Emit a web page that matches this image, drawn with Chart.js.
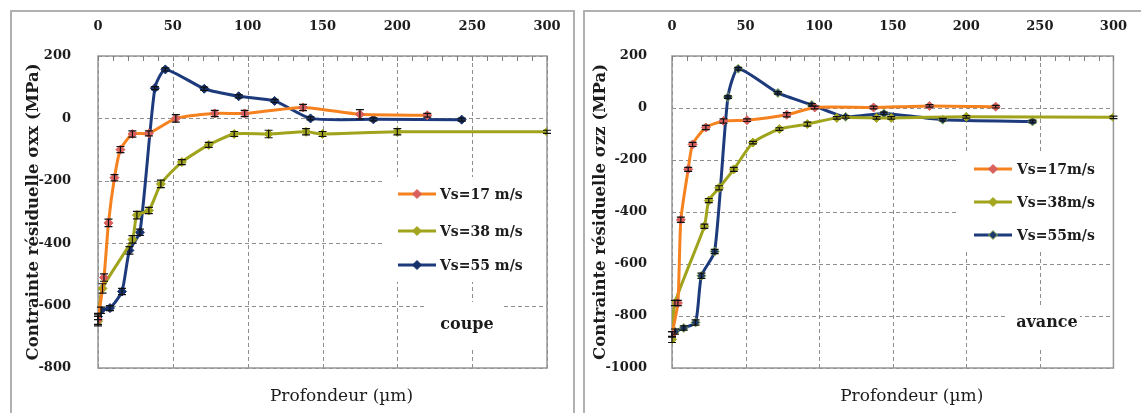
<!DOCTYPE html>
<html><head><meta charset="utf-8">
<script src="https://cdn.jsdelivr.net/npm/chart.js@4.4.0/dist/chart.umd.min.js"></script>
<style>
html,body{margin:0;padding:0;background:#fff;}
body{width:1141px;height:413px;position:relative;overflow:hidden;}
.panel{position:absolute;border:2px solid #b0b0b0;box-sizing:border-box;}
#p1{left:10px;top:10px;width:565px;height:430px;}
#p2{left:583px;top:10px;width:600px;height:430px;}
canvas{position:absolute;top:0;}
#c1{left:0;}
#c2{left:575px;}
</style></head><body>
<div class="panel" id="p1"></div><div class="panel" id="p2"></div>
<canvas id="c1" width="575" height="413"></canvas>
<canvas id="c2" width="566" height="413"></canvas>
<script>
// ---------- DATA ----------
// Depth axis ticks (µm)
const depthMin = 0, depthMax = 300, depthStep = 50, depthMinorStep = 10;

// Panel "coupe" (σxx)
const coupeX17 = [0, 4, 7, 11, 15, 23, 34, 52, 78, 98, 137, 175, 220];
const coupeY17 = [-645, -510, -335, -190, -100, -50, -48, 0, 16, 16, 35, 13, 10];
const coupeE17 = [15, 12, 12, 10, 10, 10, 8, 12, 10, 10, 10, 15, 6];

const coupeX38 = [0, 3, 23, 26, 34, 42, 56, 74, 91, 114, 139, 150, 200, 300];
const coupeY38 = [-650, -545, -388, -310, -295, -210, -140, -85, -50, -50, -43, -50, -43, -43];
const coupeE38 = [15, 15, 12, 12, 10, 12, 8, 8, 8, 12, 10, 8, 10, 5];

const coupeX55 = [0, 2, 8, 16, 21, 28, 38, 45, 71, 94, 118, 142, 184, 243];
const coupeY55 = [-635, -615, -608, -555, -423, -365, 97, 157, 95, 71, 56, 0, -3, -4];
const coupeE55 = [10, 10, 8, 10, 12, 10, 5, 5, 5, 5, 5, 5, 5, 5];

// Panel "avance" (σzz)
const avanceX17 = [0, 4, 6, 11, 14, 23, 35, 51, 78, 97, 137, 175, 220];
const avanceY17 = [-870, -750, -430, -236, -140, -75, -50, -47, -26, 2, 2, 8, 5];
const avanceE17 = [10, 10, 10, 8, 8, 8, 8, 5, 8, 5, 5, 5, 5];

const avanceX38 = [0, 2, 22, 25, 32, 42, 55, 73, 92, 112, 139, 149, 200, 300];
const avanceY38 = [-890, -750, -455, -356, -307, -236, -133, -81, -62, -38, -38, -38, -34, -36];
const avanceE38 = [12, 10, 8, 8, 8, 8, 5, 5, 8, 5, 5, 5, 5, 5];

const avanceX55 = [0, 2, 8, 16, 20, 29, 38, 45, 72, 95, 118, 144, 184, 245];
const avanceY55 = [-870, -860, -846, -825, -645, -552, 42, 151, 58, 12, -34, -21, -45, -52];
const avanceE55 = [10, 10, 8, 10, 10, 8, 5, 5, 5, 5, 5, 5, 5, 5];

const coupeLabels = ['Vs=17 m/s', 'Vs=38 m/s', 'Vs=55 m/s'];
const avanceLabels = ['Vs=17m/s', 'Vs=38m/s', 'Vs=55m/s'];

// ---------- CHARTS ----------
const SERIF = '"DejaVu Serif", "Liberation Serif", serif';
const TXT = '#1c1c1c';
const GRID = '#8e8e8e';
function pts(xs, ys) { return xs.map((x, i) => ({x: x, y: ys[i]})); }

function diamond(ctx, x, y, r) {
  ctx.beginPath();
  ctx.moveTo(x, y - r); ctx.lineTo(x + r, y); ctx.lineTo(x, y + r); ctx.lineTo(x - r, y);
  ctx.closePath(); ctx.fill(); ctx.stroke();
}

function makeChart(id, cfg) {
  const datasets = cfg.series.map(s => ({
    label: s.label,
    data: pts(s.x, s.y),
    errors: s.err,
    borderColor: s.line,
    backgroundColor: s.marker,
    pointBackgroundColor: s.marker,
    pointBorderColor: s.markerBorder,
    pointBorderWidth: 1,
    pointStyle: 'rectRot',
    pointRadius: 4.5,
    borderWidth: 3,
    tension: 0.2,
    fill: false
  }));

  const decor = {
    id: 'decor',
    beforeDatasetsDraw(chart) {
      const {ctx, chartArea: a} = chart;
      const xs = chart.scales.x, ys = chart.scales.y;
      ctx.save();
      // dashed grid lines at the major ticks
      ctx.strokeStyle = GRID; ctx.lineWidth = 1; ctx.setLineDash([4, 3]);
      xs.ticks.forEach(t => {
        const px = Math.round(xs.getPixelForValue(t.value)) + 0.5;
        ctx.beginPath(); ctx.moveTo(px, a.top); ctx.lineTo(px, a.bottom); ctx.stroke();
      });
      ys.ticks.forEach(t => {
        const py = Math.round(ys.getPixelForValue(t.value)) + 0.5;
        ctx.beginPath(); ctx.moveTo(a.left, py); ctx.lineTo(a.right, py); ctx.stroke();
      });
      ctx.setLineDash([]);
      // white boxes behind legend and panel label
      ctx.fillStyle = '#fff';
      cfg.boxes.forEach(b => ctx.fillRect(b[0], b[1], b[2] - b[0], b[3] - b[1]));
      // plot frame
      ctx.strokeStyle = '#969696'; ctx.lineWidth = 1.5;
      ctx.strokeRect(a.left, a.top, a.right - a.left, a.bottom - a.top);
      // minor tick marks along the top axis
      ctx.strokeStyle = '#808080'; ctx.lineWidth = 1;
      for (let v = depthMin; v <= depthMax; v += depthMinorStep) {
        const px = Math.round(xs.getPixelForValue(v)) + 0.5;
        ctx.beginPath(); ctx.moveTo(px, a.top); ctx.lineTo(px, a.top + 5); ctx.stroke();
      }
      ctx.restore();
    },
    afterDatasetsDraw(chart) {
      const {ctx, chartArea: a} = chart;
      const ys = chart.scales.y;
      ctx.save();
      // error bars
      ctx.strokeStyle = '#111'; ctx.lineWidth = 1.2;
      chart.data.datasets.forEach((d, di) => {
        const meta = chart.getDatasetMeta(di);
        meta.data.forEach((p, i) => {
          const v = d.data[i].y, e = d.errors[i];
          const y1 = ys.getPixelForValue(v + e), y2 = ys.getPixelForValue(v - e);
          ctx.beginPath();
          ctx.moveTo(p.x, y1); ctx.lineTo(p.x, y2);
          ctx.moveTo(p.x - 4, y1); ctx.lineTo(p.x + 4, y1);
          ctx.moveTo(p.x - 4, y2); ctx.lineTo(p.x + 4, y2);
          ctx.stroke();
        });
      });
      // legend
      const L = cfg.legend;
      cfg.series.forEach((s, i) => {
        const y = L.y[i];
        ctx.strokeStyle = s.line; ctx.lineWidth = 3;
        ctx.beginPath(); ctx.moveTo(L.x0, y); ctx.lineTo(L.x1, y); ctx.stroke();
        ctx.fillStyle = s.marker; ctx.strokeStyle = s.markerBorder; ctx.lineWidth = 1;
        diamond(ctx, (L.x0 + L.x1) / 2, y, 4.5);
        ctx.fillStyle = TXT; ctx.font = 'bold 14px ' + SERIF;
        ctx.textAlign = 'left'; ctx.textBaseline = 'middle';
        ctx.fillText(s.label, L.tx, y + 1);
      });
      // panel label
      ctx.fillStyle = TXT; ctx.font = 'bold 16px ' + SERIF;
      ctx.textAlign = 'center'; ctx.textBaseline = 'middle';
      ctx.fillText(cfg.tag, cfg.tagX, cfg.tagY);
      // x-axis title (bottom)
      ctx.font = '17px ' + SERIF;
      ctx.fillText('Profondeur (µm)', (a.left + a.right) / 2 + 19, 397);
      ctx.restore();
    }
  };

  return new Chart(document.getElementById(id), {
    type: 'line',
    data: {datasets: datasets},
    options: {
      responsive: false, animation: false, devicePixelRatio: 1,
      layout: {padding: {left: 0, right: cfg.padRight, top: 0, bottom: 45}},
      plugins: {legend: {display: false}, tooltip: {enabled: false}},
      scales: {
        x: {
          type: 'linear', position: 'top', min: depthMin, max: depthMax,
          ticks: {stepSize: depthStep, padding: 14, color: TXT, font: {family: SERIF, size: 13, weight: 'bold'}, maxRotation: 0,
                  callback: v => String(v)},
          grid: {display: false},
          border: {display: false},
          afterFit(s) { s.height = 56; }
        },
        y: {
          type: 'linear', position: 'left', min: cfg.yMin, max: cfg.yMax,
          ticks: {stepSize: 200, padding: cfg.yTickPad, color: TXT, font: {family: SERIF, size: 13, weight: 'bold'},
                  callback: v => String(v)},
          grid: {display: false},
          border: {display: false},
          title: {display: true, text: cfg.yTitle, color: TXT, font: {family: SERIF, size: 16.5, weight: 'bold'}, padding: {top: cfg.yTitlePad, bottom: 0}},
          afterFit(s) { s.width = cfg.yWidth; }
        }
      }
    },
    plugins: [decor]
  });
}

const ORANGE = {line: '#f5821f', marker: '#d9605c', markerBorder: '#d9605c'};
const OLIVE  = {line: '#a0a31c', marker: '#a3a61e', markerBorder: '#a3a61e'};
const NAVY   = {line: '#1c3a7c', marker: '#15306a', markerBorder: '#15306a'};
const NAVY2  = {line: '#1c3a7c', marker: '#1d3a6a', markerBorder: '#9bbb59'};

makeChart('c1', {
  series: [
    Object.assign({label: coupeLabels[0], x: coupeX17, y: coupeY17, err: coupeE17}, ORANGE),
    Object.assign({label: coupeLabels[1], x: coupeX38, y: coupeY38, err: coupeE38}, OLIVE),
    Object.assign({label: coupeLabels[2], x: coupeX55, y: coupeY55, err: coupeE55}, NAVY)
  ],
  yMin: -800, yMax: 200, yWidth: 98, padRight: 28, yTickPad: 19, yTitlePad: 24,
  yTitle: 'Contrainte résiduelle σxx (MPa)',
  boxes: [[382, 177, 547, 282], [425, 302, 502, 350]],
  legend: {x0: 398, x1: 436, tx: 440, y: [194, 231, 265]},
  tag: 'coupe', tagX: 467, tagY: 325
});

makeChart('c2', {
  series: [
    Object.assign({label: avanceLabels[0], x: avanceX17, y: avanceY17, err: avanceE17}, ORANGE),
    Object.assign({label: avanceLabels[1], x: avanceX38, y: avanceY38, err: avanceE38}, OLIVE),
    Object.assign({label: avanceLabels[2], x: avanceX55, y: avanceY55, err: avanceE55}, NAVY2)
  ],
  yMin: -1000, yMax: 200, yWidth: 97, padRight: 21, yTickPad: 17, yTitlePad: 16,
  yTitle: 'Contrainte résiduelle σzz (MPa)',
  boxes: [[383, 153, 545, 252], [430, 305, 505, 347]],
  legend: {x0: 399, x1: 437, tx: 442, y: [169, 202, 235]},
  tag: 'avance', tagX: 472, tagY: 323
});
</script>
</body></html>
